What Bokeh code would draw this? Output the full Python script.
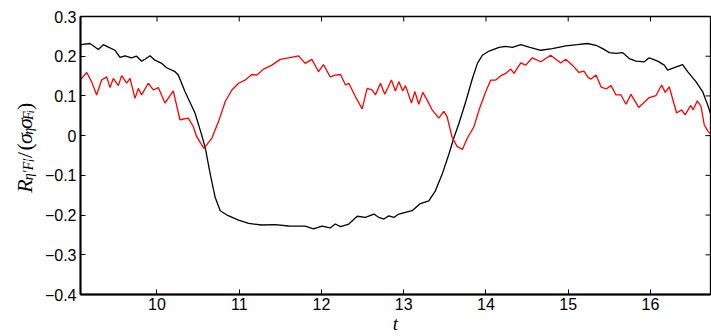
import math
from bokeh.plotting import figure
from bokeh.layouts import row
from bokeh.models import Range1d, FixedTicker
from bokeh.core.properties import value
from bokeh.embed import file_html
from bokeh.resources import INLINE

# correlation coefficient series (black)
t_black = [9.077, 9.186, 9.287, 9.347, 9.408, 9.490, 9.550, 9.611, 9.691, 9.752,
           9.813, 9.854, 9.915, 9.976, 10.056, 10.117, 10.219, 10.259, 10.340, 10.462,
           10.542, 10.587, 10.648, 10.708, 10.769, 10.851, 10.992, 11.113, 11.276, 11.437,
           11.599, 11.802, 11.903, 12.005, 12.106, 12.167, 12.231, 12.333, 12.434, 12.535,
           12.637, 12.698, 12.758, 12.819, 12.880, 12.940, 13.021, 13.102, 13.203, 13.305,
           13.385, 13.467, 13.548, 13.609, 13.670, 13.755, 13.835, 13.896, 13.956, 14.038,
           14.159, 14.241, 14.321, 14.423, 14.524, 14.666, 14.807, 14.970, 15.111, 15.232,
           15.338, 15.419, 15.500, 15.581, 15.662, 15.742, 15.824, 15.925, 15.985, 16.088,
           16.168, 16.209, 16.289, 16.391, 16.452, 16.553, 16.634, 16.695, 16.735]
r_black = [0.229, 0.232, 0.217, 0.229, 0.223, 0.215, 0.197, 0.201, 0.196, 0.200,
           0.1875, 0.1925, 0.201, 0.190, 0.182, 0.171, 0.161, 0.1525, 0.111, 0.057,
           0.0025, -0.031, -0.0975, -0.156, -0.189, -0.200, -0.2125, -0.221, -0.225, -0.224,
           -0.2275, -0.228, -0.235, -0.228, -0.2325, -0.2225, -0.229, -0.2225, -0.203, -0.206,
           -0.1975, -0.206, -0.210, -0.202, -0.206, -0.1975, -0.193, -0.189, -0.171, -0.164,
           -0.139, -0.0975, -0.0475, -0.006, 0.030, 0.086, 0.144, 0.182, 0.2025, 0.213,
           0.222, 0.225, 0.222, 0.229, 0.223, 0.215, 0.219, 0.226, 0.229, 0.232,
           0.2275, 0.219, 0.209, 0.207, 0.209, 0.194, 0.1875, 0.186, 0.196, 0.1875,
           0.1775, 0.165, 0.171, 0.179, 0.161, 0.136, 0.111, 0.0775, 0.0525]

# correlation coefficient series (red)
t_red = [9.077, 9.145, 9.205, 9.266, 9.327, 9.388, 9.429, 9.469, 9.530, 9.570,
         9.631, 9.672, 9.733, 9.773, 9.813, 9.894, 9.955, 10.016, 10.097, 10.198,
         10.279, 10.380, 10.441, 10.481, 10.570, 10.668, 10.749, 10.830, 10.911, 10.992,
         11.073, 11.154, 11.215, 11.295, 11.397, 11.498, 11.599, 11.721, 11.802, 11.883,
         11.964, 12.024, 12.106, 12.167, 12.231, 12.292, 12.333, 12.413, 12.495, 12.555,
         12.616, 12.656, 12.717, 12.770, 12.851, 12.899, 12.940, 12.989, 13.021, 13.094,
         13.135, 13.183, 13.232, 13.284, 13.345, 13.426, 13.487, 13.527, 13.588, 13.649,
         13.713, 13.774, 13.855, 13.916, 13.998, 14.058, 14.119, 14.180, 14.241, 14.301,
         14.341, 14.423, 14.484, 14.564, 14.666, 14.787, 14.909, 14.970, 15.050, 15.131,
         15.192, 15.244, 15.277, 15.338, 15.399, 15.460, 15.521, 15.581, 15.642, 15.702,
         15.763, 15.857, 15.925, 15.985, 16.067, 16.136, 16.180, 16.228, 16.318, 16.379,
         16.421, 16.490, 16.518, 16.570, 16.614, 16.654, 16.695, 16.735]
r_red = [0.1425, 0.159, 0.136, 0.1025, 0.140, 0.148, 0.121, 0.144, 0.126, 0.151,
         0.132, 0.144, 0.094, 0.119, 0.1025, 0.132, 0.115, 0.121, 0.082, 0.1125,
         0.040, 0.044, 0.023, -0.002, -0.032, -0.006, 0.036, 0.086, 0.115, 0.132,
         0.140, 0.154, 0.1525, 0.1675, 0.1775, 0.192, 0.196, 0.201, 0.182, 0.192,
         0.161, 0.179, 0.148, 0.1525, 0.154, 0.1275, 0.132, 0.098, 0.0675, 0.119,
         0.115, 0.1025, 0.132, 0.104, 0.140, 0.1125, 0.136, 0.1125, 0.126, 0.082,
         0.111, 0.079, 0.109, 0.090, 0.065, 0.044, 0.061, 0.048, -0.004, -0.027,
         -0.035, -0.006, 0.023, 0.065, 0.111, 0.140, 0.140, 0.151, 0.157, 0.1675,
         0.157, 0.183, 0.1775, 0.196, 0.186, 0.2025, 0.183, 0.1925, 0.1775, 0.159,
         0.1625, 0.146, 0.1425, 0.1525, 0.123, 0.1175, 0.126, 0.1025, 0.1025, 0.079,
         0.104, 0.071, 0.084, 0.096, 0.101, 0.1275, 0.109, 0.123, 0.057, 0.065,
         0.0525, 0.076, 0.065, 0.0875, 0.074, 0.0275, 0.0125, 0.0025]

x_ticks = [10, 11, 12, 13, 14, 15, 16]
y_ticks = [-0.4, -0.3, -0.2, -0.1, 0, 0.1, 0.2, 0.3]
y_tick_labels = ["\u22120.4", "\u22120.3", "\u22120.2", "\u22120.1", "0", "0.1", "0.2", "0.3"]

X0, X1 = 9.07, 16.73
Y0, Y1 = -0.4, 0.3

W, H = 711, 336
TITLE_W = 40          # strip holding the vertical axis title
TICK_FONT = "Liberation Sans"
MATH_FONT = "Liberation Serif"

# ---- main plot panel ----
p = figure(width=W - TITLE_W, height=H, output_backend="svg", toolbar_location=None,
           x_range=Range1d(X0, X1), y_range=Range1d(Y0, Y1),
           min_border_left=80 - TITLE_W, min_border_right=1, min_border_top=16,
           min_border_bottom=30,
           background_fill_color="white", border_fill_color="white")
p.grid.visible = False
p.outline_line_color = "black"
p.outline_line_width = 1.3

p.line(t_black, r_black, line_color="black", line_width=1.3)
p.line(t_red, r_red, line_color="#ff0000", line_width=1.3)

for ax, ticks in ((p.xaxis[0], x_ticks), (p.yaxis[0], y_ticks)):
    ax.ticker = FixedTicker(ticks=ticks)
    ax.minor_tick_line_color = None
    ax.major_tick_in = 5
    ax.major_tick_out = 0
    ax.major_tick_line_color = "black"
    ax.major_tick_line_width = 1
    ax.axis_line_color = "black"
    ax.axis_line_width = 2
    ax.major_label_text_font = TICK_FONT
    ax.major_label_text_font_size = "16px"
    ax.major_label_text_color = "black"
p.xaxis[0].major_label_standoff = 3
p.yaxis[0].major_label_standoff = 4
p.yaxis[0].major_label_overrides = {v: s for v, s in zip(y_ticks, y_tick_labels)}

# x-axis title
p.xaxis[0].axis_label = "t"
p.xaxis[0].axis_label_standoff = 0
p.xaxis[0].axis_label_text_font = MATH_FONT
p.xaxis[0].axis_label_text_font_style = "italic"
p.xaxis[0].axis_label_text_font_size = "19px"
p.xaxis[0].axis_label_text_color = "black"

# inward ticks on the top and right edges of the box
p.ray(x=x_ticks, y=[Y1] * len(x_ticks), length=5, length_units="screen",
      angle=-math.pi / 2, line_color="black", line_width=1)
p.ray(x=[X1] * len(y_ticks), y=y_ticks, length=5, length_units="screen",
      angle=math.pi, line_color="black", line_width=1)


# ---- vertical title strip: R_{eta' F'_i} / (sigma_eta sigma_{F_i}), bottom to top ----
yl = figure(width=TITLE_W, height=H, output_backend="svg", toolbar_location=None,
            x_range=Range1d(0, TITLE_W), y_range=Range1d(0, H),
            min_border=0, background_fill_color="white", border_fill_color="white")
yl.axis.visible = False
yl.grid.visible = False
yl.outline_line_color = None


def put(txt, px, py, size, italic=True):
    # px, py: baseline start in pixels from the strip's top-left corner
    yl.text(x=[px], y=[H - py], text=[txt], angle=math.pi / 2, text_align="left",
            text_baseline="alphabetic", text_font=value(MATH_FONT),
            text_font_style="italic" if italic else "normal",
            text_font_size=value(f"{size}px"), text_color="black")


put("R", 24, 213, 22)
put("\u03b7\u2032F\u2032", 28, 198, 14)
put("i", 30, 176, 10)
put("/", 24, 171, 22, italic=False)
put("(", 24, 162, 22, italic=False)
put("\u03c3", 24, 154, 22)
put("\u03b7", 28, 143, 14)
put("\u03c3", 24, 136, 22)
put("F", 28, 125, 14)
put("i", 30, 117, 10)
put(")", 24, 113, 22, italic=False)

layout = row(yl, p, spacing=0)

open("out.html", "w").write(file_html(layout, INLINE))
